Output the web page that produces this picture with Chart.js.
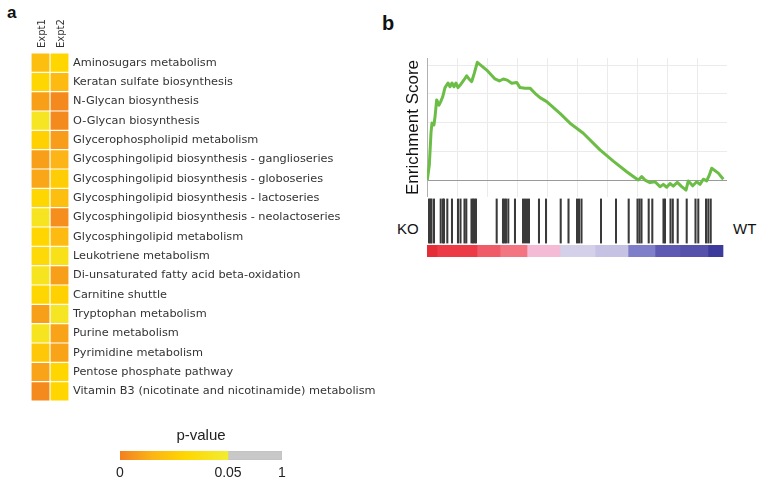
<!DOCTYPE html>
<html>
<head>
<meta charset="utf-8">
<script src="https://cdn.jsdelivr.net/npm/chart.js@4.4.0/dist/chart.umd.min.js"></script>
<style>
body { margin: 0; background: #fff; width: 764px; height: 485px; position: relative; overflow: hidden; font-family: "Liberation Sans", Arial, sans-serif; }
.box { position: absolute; }
.txt { position: absolute; line-height: 1; color: #111; white-space: nowrap; }
</style>
</head>
<body>
<div class="txt" style="left:7px;top:4px;font-size:17px;font-weight:bold">a</div>
<div class="txt" style="left:382px;top:13px;font-size:20px;font-weight:bold">b</div>
<div class="txt" style="left:397px;top:221px;font-size:15px">KO</div>
<div class="txt" style="left:733px;top:221px;font-size:15px">WT</div>

<div class="box" style="left:31px;top:0;width:350px;height:401px"><canvas id="heat"></canvas></div>
<div class="box" style="left:110px;top:419px;width:182px;height:65px"><canvas id="scale"></canvas></div>
<div class="box" style="left:399px;top:58px;width:328px;height:139px"><canvas id="es"></canvas></div>
<div class="box" style="left:427px;top:197px;width:300px;height:48px"><canvas id="hits"></canvas></div>
<div class="box" style="left:427px;top:245px;width:300px;height:12px"><canvas id="band"></canvas></div>

<script>
// panel a: pathway p-values
const pathways = [
    "Aminosugars metabolism",
    "Keratan sulfate biosynthesis",
    "N-Glycan biosynthesis",
    "O-Glycan biosynthesis",
    "Glycerophospholipid metabolism",
    "Glycosphingolipid biosynthesis - ganglioseries",
    "Glycosphingolipid biosynthesis - globoseries",
    "Glycosphingolipid biosynthesis - lactoseries",
    "Glycosphingolipid biosynthesis - neolactoseries",
    "Glycosphingolipid metabolism",
    "Leukotriene metabolism",
    "Di-unsaturated fatty acid beta-oxidation",
    "Carnitine shuttle",
    "Tryptophan metabolism",
    "Purine metabolism",
    "Pyrimidine metabolism",
    "Pentose phosphate pathway",
    "Vitamin B3 (nicotinate and nicotinamide) metabolism"
];
const experiments = ["Expt1", "Expt2"];
const expt1P = [0.020, 0.031, 0.009, 0.044, 0.028, 0.009, 0.011, 0.031, 0.043, 0.030, 0.033, 0.043, 0.031, 0.009, 0.043, 0.024, 0.010, 0.003];
const expt2P = [0.030, 0.018, 0.003, 0.003, 0.008, 0.015, 0.026, 0.020, 0.004, 0.018, 0.040, 0.009, 0.028, 0.044, 0.010, 0.010, 0.030, 0.030];
const scaleLabels = ["0", "0.05", "1"];

// panel b: running enrichment score
const esRank = [10, 77, 133, 167, 233, 267, 323, 400, 457, 523, 600, 700, 767, 833, 900, 967, 1033, 1123, 1190, 1267,
    1323, 1400, 1490, 1577, 1677, 1990, 2267, 2410, 2543, 2677, 2823, 2990, 3100, 3267, 3433, 3600, 3767, 3990, 4433, 4767,
    5210, 5767, 6210, 6657, 6933, 7043, 7157, 7267, 7433, 7600, 7767, 7877, 7990, 8100, 8210, 8343, 8490, 8633, 8710, 8857,
    8990, 9100, 9210, 9323, 9410, 9490, 9710, 9877];
const esScore = [0, 0.052, 0.164, 0.199, 0.192, 0.220, 0.279, 0.261, 0.273, 0.290, 0.322, 0.338, 0.325, 0.338, 0.325, 0.338, 0.322, 0.333, 0.343, 0.354,
    0.363, 0.352, 0.343, 0.372, 0.410, 0.383, 0.352, 0.345, 0.352, 0.348, 0.337, 0.340, 0.322, 0.320, 0.320, 0.302, 0.287, 0.273, 0.232, 0.198,
    0.163, 0.105, 0.066, 0.029, 0.008, 0, 0.012, 0, -0.009, -0.006, -0.023, -0.015, -0.025, -0.012, -0.021, -0.008, -0.023, -0.035, -0.003, -0.020,
    -0.006, -0.015, 0.003, -0.003, 0.017, 0.041, 0.024, 0.003];
const hitRanks = [67, 117, 150, 233, 457, 533, 567, 677, 833, 1033, 1117, 1250, 1310, 1483, 1533, 1583, 1633, 2323, 2533, 2583,
    2633, 2710, 2933, 3200, 3267, 3333, 3400, 3733, 3967, 4457, 4717, 5000, 5067, 5150, 5800, 6300, 6723, 7017, 7083, 7150,
    7390, 7510, 7883, 7933, 8117, 8193, 8357, 8657, 8950, 9043, 9300, 9377, 9457];
const bandEdges = [0, 333, 1667, 2433, 3333, 4433, 5600, 6700, 7600, 8433, 9367, 9867];
const bandColors = ["#e52d38", "#ec3b47", "#ef5b69", "#f27581", "#f4bbd6", "#d4d0ea", "#c6c2e3", "#7f7ec9", "#5e5ab3", "#5652ac", "#3c3b9b"];

const SANS = "'Liberation Sans', Arial, sans-serif";
const DEJAVU = "'DejaVu Sans', Verdana, sans-serif";

// orange -> yellow ramp used for p < 0.05
const ramp = [[0, [242, 128, 32]], [0.3, [252, 180, 22]], [0.6, [255, 214, 0]], [1, [242, 236, 50]]];
function pColor(p) {
    const t = Math.min(Math.max(p / 0.05, 0), 1);
    for (let i = 1; i < ramp.length; i++) {
        if (t <= ramp[i][0]) {
            const a = ramp[i - 1], b = ramp[i];
            const f = (t - a[0]) / (b[0] - a[0]);
            const c = a[1].map((v, k) => Math.round(v + (b[1][k] - v) * f));
            return `rgb(${c[0]},${c[1]},${c[2]})`;
        }
    }
    return "rgb(242,236,50)";
}

function noPad(s) {
    s.paddingLeft = 0; s.paddingRight = 0; s.paddingTop = 0; s.paddingBottom = 0;
}

Chart.defaults.animation = false;
Chart.defaults.plugins.legend.display = false;
Chart.defaults.plugins.tooltip.enabled = false;
Chart.defaults.responsive = true;
Chart.defaults.maintainAspectRatio = false;

// heatmap
new Chart(document.getElementById("heat"), {
    type: "bar",
    data: {
        labels: pathways,
        datasets: [expt1P, expt2P].map((vals, j) => ({
            data: vals.map(() => [j, j + 1]),
            backgroundColor: vals.map(pColor),
            borderColor: "#fff",
            borderWidth: 0.9,
            borderSkipped: false,
            grouped: false,
            barPercentage: 1,
            categoryPercentage: 1
        }))
    },
    options: {
        indexAxis: "y",
        layout: { padding: 0 },
        scales: {
            x: {
                type: "linear", position: "top", min: 0, max: 2,
                afterBuildTicks: s => { s.ticks = experiments.map((e, i) => ({ value: i + 0.5 })); },
                afterFit: s => { s.height = 53; noPad(s); },
                ticks: {
                    callback: (v, i) => experiments[i],
                    minRotation: 90, maxRotation: 90, padding: 5, labelOffset: 14,
                    color: "#333", font: { family: DEJAVU, size: 10 }
                },
                grid: { display: false, drawTicks: false },
                border: { display: false }
            },
            y: {
                position: "right",
                afterFit: s => { s.width = 312; noPad(s); },
                ticks: { padding: 4, color: "#333", font: { family: DEJAVU, size: 11.3 } },
                grid: { display: false, drawTicks: false },
                border: { display: false }
            }
        }
    }
});

// p-value colour scale
new Chart(document.getElementById("scale"), {
    type: "bar",
    data: {
        labels: ["p"],
        datasets: [
            {
                data: [[0, 2]],
                backgroundColor: ctx => {
                    const ch = ctx.chart;
                    if (!ch.chartArea) return "#fc0";
                    const x0 = ch.scales.x.getPixelForValue(0), x1 = ch.scales.x.getPixelForValue(2);
                    const g = ch.ctx.createLinearGradient(x0, 0, x1, 0);
                    ramp.forEach(r => g.addColorStop(r[0], `rgb(${r[1].join(",")})`));
                    return g;
                }
            },
            { data: [[2, 3]], backgroundColor: "#c8c8c8", borderColor: "#b8b8b8", borderWidth: 0.6, borderSkipped: false }
        ].map(d => Object.assign(d, { grouped: false, barPercentage: 1, categoryPercentage: 1 }))
    },
    options: {
        indexAxis: "y",
        layout: { padding: { left: 10, right: 10 } },
        plugins: {
            title: { display: true, text: "p-value", color: "#222", font: { family: SANS, size: 15, weight: "normal" }, padding: { top: 8, bottom: 6 } }
        },
        scales: {
            x: {
                type: "linear", min: 0, max: 3,
                afterBuildTicks: s => { s.ticks = [0, 2, 3].map(v => ({ value: v })); },
                afterFit: s => { s.height = 24; noPad(s); },
                ticks: { callback: (v, i) => scaleLabels[i], padding: 5, color: "#222", font: { family: SANS, size: 14 }, maxRotation: 0 },
                grid: { display: false, drawTicks: false },
                border: { display: false }
            },
            y: { display: false }
        }
    }
});

// running enrichment score
new Chart(document.getElementById("es"), {
    type: "line",
    data: {
        datasets: [{
            data: esRank.map((x, i) => ({ x: x, y: esScore[i] })),
            borderColor: "#6bbd45",
            borderWidth: 3,
            borderJoinStyle: "round",
            pointRadius: 0,
            tension: 0
        }]
    },
    options: {
        layout: { padding: 0 },
        scales: {
            x: {
                type: "linear", min: 0, max: 10000,
                afterBuildTicks: s => { s.ticks = Array.from({ length: 11 }, (_, i) => ({ value: i * 1000 })); },
                afterFit: s => { s.height = 0; noPad(s); },
                ticks: { display: false },
                grid: { color: "#ebebeb", drawTicks: false },
                border: { color: "#cfcfcf" }
            },
            y: {
                min: -0.059, max: 0.425,
                afterBuildTicks: s => { s.ticks = [0, 0.1, 0.2, 0.3, 0.4].map(v => ({ value: v })); },
                afterFit: s => { s.width = 28; noPad(s); },
                ticks: { display: false },
                grid: { color: c => (c.tick && c.tick.value === 0 ? "#9a9a9a" : "#ebebeb"), drawTicks: false },
                border: { color: "#b0b0b0" },
                title: { display: true, text: "Enrichment Score", color: "#111", font: { family: SANS, size: 17 }, padding: 4 }
            }
        }
    }
});

// gene set hits, one thin bar per gene
new Chart(document.getElementById("hits"), {
    type: "bar",
    data: {
        datasets: [{
            data: hitRanks.map(x => ({ x: x, y: [0.04, 0.96] })),
            backgroundColor: "#3a3a3a",
            barThickness: 1.4,
            borderWidth: 0
        }]
    },
    options: {
        layout: { padding: 0 },
        scales: {
            x: { type: "linear", min: 0, max: 10000, offset: false, display: false, grid: { offset: false } },
            y: { min: 0, max: 1, display: false }
        }
    }
});

// ranked list colour band
new Chart(document.getElementById("band"), {
    type: "bar",
    data: {
        labels: ["rank"],
        datasets: bandColors.map((c, i) => ({
            data: [[bandEdges[i], bandEdges[i + 1]]],
            backgroundColor: c,
            borderWidth: 0,
            grouped: false,
            barPercentage: 1,
            categoryPercentage: 1
        }))
    },
    options: {
        indexAxis: "y",
        layout: { padding: 0 },
        scales: {
            x: { type: "linear", min: 0, max: 10000, display: false },
            y: { display: false }
        }
    }
});
</script>
</body>
</html>
